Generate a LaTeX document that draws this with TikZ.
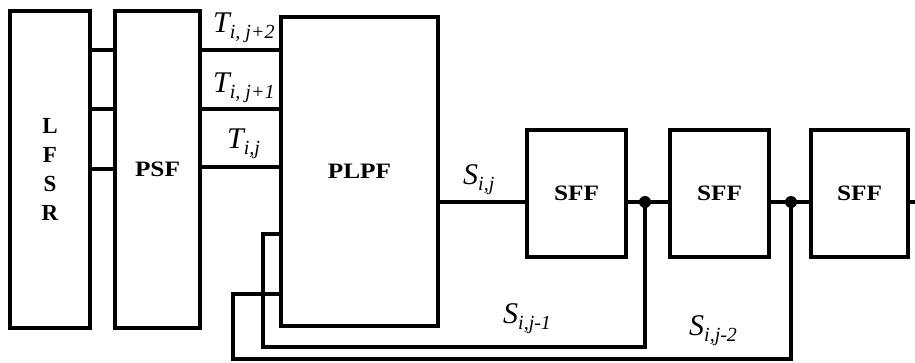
\documentclass[tikz,border=0pt]{standalone}
\usepackage{fontspec}
\setmainfont{Liberation Serif}
\newcommand{\TSub}[2]{{\fontsize{30}{30}\selectfont\itshape #1}\raisebox{-6pt}{\fontsize{20}{20}\selectfont\itshape #2}}
\newcommand{\BxTxt}[1]{\scalebox{1.15}[1]{\fontsize{22}{22}\selectfont\bfseries #1}}
\tikzset{
  blk/.style={draw, line width=4pt, rectangle, inner sep=0pt, align=center,
    font=\fontsize{23}{29}\selectfont\bfseries},
  wire/.style={line width=4pt},
  lbl/.style={inner sep=0pt, anchor=base west},
}
\begin{document}
\begin{tikzpicture}[x=1pt, y=-1pt]
\useasboundingbox (0,0) rectangle (915,362);
% blocks
\node[blk, minimum width=80pt, minimum height=317pt] (lfsr) at (50,169.5) {L\\F\\S\\R};
\node[blk, minimum width=85pt, minimum height=317pt] (psf) at (157.5,169.5) {\BxTxt{PSF}};
\node[blk, minimum width=157pt, minimum height=309pt] (plpf) at (359.5,171.5) {\BxTxt{PLPF}};
\node[blk, minimum width=99pt, minimum height=127pt] (sff1) at (576.5,193.5) {\BxTxt{SFF}};
\node[blk, minimum width=99pt, minimum height=127pt] (sff2) at (719.5,193.5) {\BxTxt{SFF}};
\node[blk, minimum width=97pt, minimum height=127pt] (sff3) at (859.5,193.5) {\BxTxt{SFF}};
% LFSR -> PSF
\foreach \yy in {50,109,169} {
  \draw[wire] (lfsr.east |- 0,\yy) -- (psf.west |- 0,\yy);
}
% PSF -> PLPF
\foreach \yy in {50,109,167} {
  \draw[wire] (psf.east |- 0,\yy) -- (plpf.west |- 0,\yy);
}
% labels T
\node[lbl] (t2) at (213,32) {\TSub{T}{i, j+2}};
\node[lbl] (t1) at (213,92) {\TSub{T}{i, j+1}};
\node[lbl] (t0) at (227,148) {\TSub{T}{i,j}};
% main chain
\coordinate (j1) at (645,202);
\coordinate (j2) at (791,202);
\coordinate (out) at (916,202);
\draw[wire] (plpf.east |- 0,202) -- (sff1.west |- 0,202);
\draw[wire] (sff1.east |- 0,202) -- (sff2.west |- 0,202);
\draw[wire] (sff2.east |- 0,202) -- (sff3.west |- 0,202);
\draw[wire] (sff3.east |- 0,202) -- (out);
\fill (j1) circle (6pt);
\fill (j2) circle (6pt);
% feedback loops
\draw[wire] (j1) -- (645,347) -- (263,347) -- (263,234) -- (plpf.west |- 0,234);
\draw[wire] (j2) -- (791,359) -- (233,359) -- (233,294) -- (plpf.west |- 0,294);
% S labels
\node[lbl] (s0) at (463,184) {\TSub{S}{i,j}};
\node[lbl] (s1) at (503,323) {\TSub{S}{i,j-1}};
\node[lbl] (s2) at (689,335) {\TSub{S}{i,j-2}};
\end{tikzpicture}
\end{document}
